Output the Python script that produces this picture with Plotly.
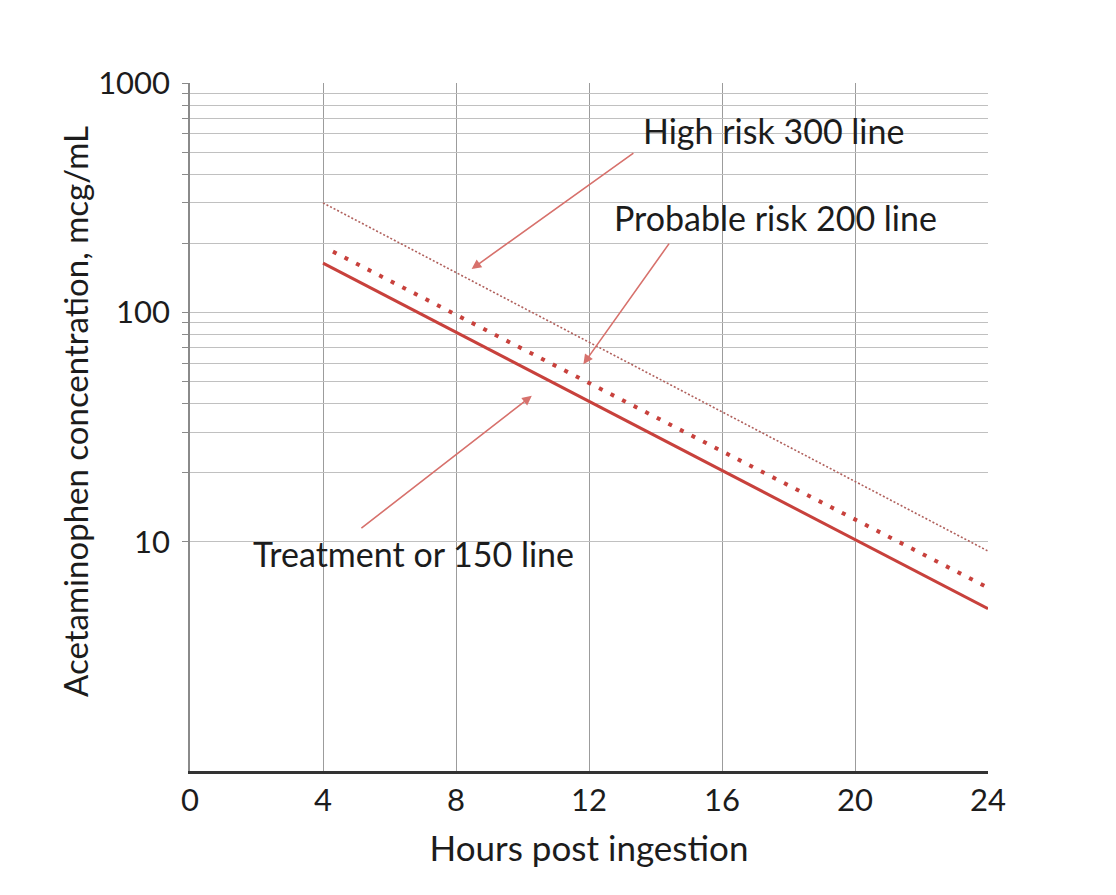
import plotly.graph_objects as go

# nomogram lines (hours, mcg/mL)
hours_150 = [4, 24]
conc_150 = [164, 5.1]

hours_200 = [4.3, 24]
conc_200 = [184, 6.3]

hours_300 = [4, 24]
conc_300 = [300, 9.1]

x_ticks = [0, 4, 8, 12, 16, 20, 24]
y_ticks = [10, 20, 30, 40, 50, 60, 70, 80, 90,
           100, 200, 300, 400, 500, 600, 700, 800, 900, 1000]
y_labels = ["10", "", "", "", "", "", "", "", "",
            "100", "", "", "", "", "", "", "", "", "1000"]

RED = "#c8413c"
ARROW = "#d7716c"
FONT = "Lato"
TXT = "#1c1c1c"

fig = go.Figure()

fig.add_trace(
    go.Scatter(x=hours_300, y=conc_300, mode="lines",
               line=dict(color="#b0605c", width=1.6, dash="2px,2px"))
)
fig.add_trace(
    go.Scatter(x=hours_200, y=conc_200, mode="lines",
               line=dict(color=RED, width=4, dash="4px,9px"))
)
fig.add_trace(
    go.Scatter(x=hours_150, y=conc_150, mode="lines",
               line=dict(color=RED, width=3))
)

labels = [
    # text, text x, text log10(y), arrow head x, head log10(y), tail x, tail log10(y)
    ("High risk 300 line", 17.55, 2.795, 8.47, 2.189, 13.38, 2.699),
    ("Probable risk 200 line", 17.6, 2.415, 11.83, 1.774, 14.44, 2.306),
    ("Treatment or 150 line", 6.71, 0.948, 10.28, 1.636, 5.11, 1.054),
]
for text, tx, ty, hx, hy, sx, sy in labels:
    fig.add_annotation(x=tx, y=ty, text=text, showarrow=False,
                       font=dict(size=34, color=TXT, family=FONT))
    fig.add_annotation(x=hx, y=hy, ax=sx, ay=sy, axref="x", ayref="y",
                       text="", showarrow=True, arrowhead=2, arrowsize=1.2,
                       arrowwidth=1.6, arrowcolor=ARROW)

# y axis title as an annotation so it can sit a little above centre
fig.add_annotation(
    text="Acetaminophen concentration, mcg/mL",
    textangle=-90,
    xref="paper", yref="paper",
    x=-0.144, y=0.522,
    xanchor="center", yanchor="middle",
    showarrow=False,
    font=dict(size=33, color=TXT, family=FONT),
)

fig.update_layout(
    width=1116,
    height=895,
    margin=dict(l=182, r=136, t=75, b=132, autoexpand=False),
    plot_bgcolor="white",
    paper_bgcolor="white",
    showlegend=False,
    font=dict(family=FONT, color=TXT),
    xaxis=dict(
        range=[0, 24],
        tickvals=x_ticks,
        showgrid=True,
        gridcolor="#9c9c9c",
        gridwidth=1.3,
        zeroline=False,
        showline=True,
        linecolor="#333333",
        linewidth=2.5,
        ticks="",
        tickfont=dict(size=31),
        title=dict(text="Hours post ingestion", font=dict(size=35), standoff=20),
    ),
    yaxis=dict(
        type="log",
        range=[0, 3],
        tickvals=y_ticks,
        ticktext=y_labels,
        showgrid=True,
        gridcolor="#c0c0c0",
        gridwidth=1.4,
        zeroline=False,
        showline=True,
        linecolor="#8a8a8a",
        linewidth=1.5,
        ticks="outside",
        ticklen=6,
        tickcolor="#8a8a8a",
        ticklabelstandoff=6,
        tickfont=dict(size=31),
    ),
)

fig.write_html("out.html")
